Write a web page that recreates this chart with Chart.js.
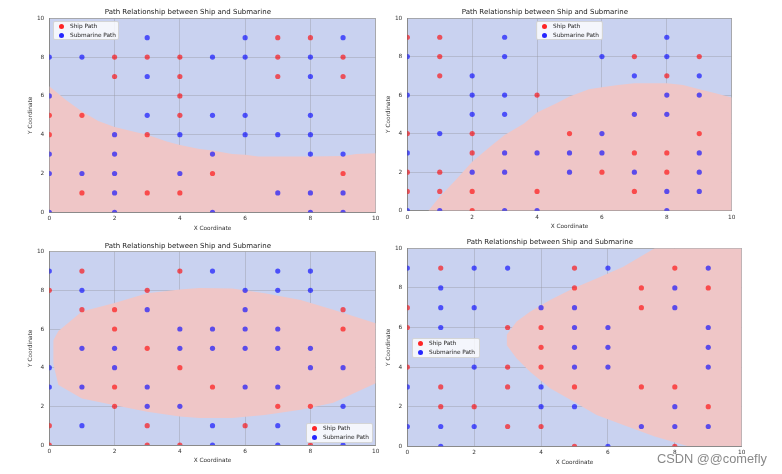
<!DOCTYPE html>
<html>
<head>
<meta charset="utf-8">
<script src="https://cdn.jsdelivr.net/npm/chart.js@4.4.0/dist/chart.umd.min.js"></script>
<style>
  body { margin: 0; background: #fff; width: 782px; height: 474px; overflow: hidden; position: relative; }
  .box { position: absolute; }
  .lg { position: absolute; z-index: 5; background: rgba(255,255,255,0.8); border: 1px solid rgba(204,204,204,0.8);
        border-radius: 2px; box-sizing: border-box; font: 5.8px 'DejaVu Sans'; color: #222; }
  .row { position: relative; height: 9px; line-height: 9px; padding-left: 16px; white-space: nowrap; }
  .dot { position: absolute; left: 4.5px; top: 2px; width: 5px; height: 5px; border-radius: 50%; }
  .wm { position: absolute; z-index: 6; left: 657px; top: 451px; font: 12.8px 'Liberation Sans'; color: rgba(115,115,115,0.85); white-space: nowrap; }
</style>
</head>
<body>
<div class="box" style="left:0;top:0;width:390px;height:235px"><canvas id="c1"></canvas></div>
<div class="box" style="left:358px;top:0;width:424px;height:235px"><canvas id="c2"></canvas></div>
<div class="box" style="left:0;top:235px;width:390px;height:239px"><canvas id="c3"></canvas></div>
<div class="box" style="left:358px;top:235px;width:424px;height:239px"><canvas id="c4"></canvas></div>

<div class="lg" style="left:53px;top:21px;width:66px;height:19px">
  <div class="row"><span class="dot" style="background:rgba(255,0,0,0.85)"></span>Ship Path</div>
  <div class="row"><span class="dot" style="background:rgba(0,0,255,0.85)"></span>Submarine Path</div>
</div>
<div class="lg" style="left:536px;top:21px;width:67px;height:19px">
  <div class="row"><span class="dot" style="background:rgba(255,0,0,0.85)"></span>Ship Path</div>
  <div class="row"><span class="dot" style="background:rgba(0,0,255,0.85)"></span>Submarine Path</div>
</div>
<div class="lg" style="left:306px;top:423px;width:67px;height:20px">
  <div class="row"><span class="dot" style="background:rgba(255,0,0,0.85)"></span>Ship Path</div>
  <div class="row"><span class="dot" style="background:rgba(0,0,255,0.85)"></span>Submarine Path</div>
</div>
<div class="lg" style="left:412px;top:338px;width:68px;height:20px">
  <div class="row"><span class="dot" style="background:rgba(255,0,0,0.85)"></span>Ship Path</div>
  <div class="row"><span class="dot" style="background:rgba(0,0,255,0.85)"></span>Submarine Path</div>
</div>
<div class="wm">CSDN @@comefly</div>

<script>
// points [x, y]
const ship1 = [[7,9],[8,9],[2,8],[3,8],[4,8],[7,8],[9,8],[2,7],[4,7],[7,7],[9,7],[4,6],[0,5],[1,5],[4,5],
  [0,4],[3,4],[5,2],[9,2],[1,1],[3,1],[4,1]];
const sub1 = [[3,9],[6,9],[9,9],[0,8],[1,8],[5,8],[6,8],[8,8],[3,7],[8,7],[0,6],[3,5],[5,5],[6,5],[8,5],
  [2,4],[4,4],[6,4],[7,4],[8,4],[0,3],[2,3],[5,3],[8,3],[9,3],[0,2],[1,2],[2,2],[4,2],[2,1],[7,1],[8,1],[9,1],
  [0,0],[2,0],[5,0],[8,0],[9,0]];

const ship2 = [[0,9],[1,9],[1,8],[7,8],[9,8],[1,7],[8,7],[4,6],[0,4],[2,4],[5,4],[9,4],[2,3],[7,3],[8,3],
  [0,2],[1,2],[6,2],[8,2],[0,1],[1,1],[2,1],[4,1],[7,1],[2,0]];
const sub2 = [[3,9],[8,9],[0,8],[3,8],[6,8],[8,8],[2,7],[7,7],[9,7],[0,6],[2,6],[3,6],[8,6],[9,6],[2,5],[3,5],
  [7,5],[8,5],[1,4],[6,4],[0,3],[3,3],[4,3],[5,3],[6,3],[9,3],[2,2],[3,2],[5,2],[7,2],[9,2],[8,1],[9,1],
  [0,0],[1,0],[3,0],[4,0],[8,0]];

const ship3 = [[1,9],[4,9],[0,8],[3,8],[1,7],[2,7],[9,7],[2,6],[9,6],[3,5],[4,4],[2,3],[5,3],[2,2],[7,2],[8,2],
  [0,1],[3,1],[6,1],[0,0],[3,0],[4,0],[8,0]];
const sub3 = [[0,9],[5,9],[7,9],[8,9],[1,8],[6,8],[7,8],[8,8],[3,7],[6,7],[4,6],[5,6],[6,6],[7,6],[1,5],[2,5],
  [4,5],[5,5],[6,5],[7,5],[8,5],[0,4],[2,4],[8,4],[9,4],[0,3],[1,3],[3,3],[6,3],[7,3],[3,2],[4,2],[9,2],
  [1,1],[5,1],[7,1],[5,0],[7,0],[9,0]];

const ship4 = [[1,9],[5,9],[8,9],[5,8],[7,8],[9,8],[0,7],[7,7],[0,6],[3,6],[4,6],[4,5],[0,4],[3,4],[4,4],
  [1,3],[3,3],[5,3],[7,3],[8,3],[1,2],[2,2],[9,2],[3,1],[4,1],[5,0],[8,0]];
const sub4 = [[0,9],[2,9],[3,9],[6,9],[9,9],[1,8],[8,8],[1,7],[2,7],[4,7],[5,7],[8,7],[1,6],[5,6],[6,6],[9,6],
  [5,5],[6,5],[9,5],[2,4],[5,4],[6,4],[9,4],[0,3],[4,3],[4,2],[5,2],[8,2],[0,1],[1,1],[2,1],[7,1],[8,1],[9,1],
  [1,0],[6,0]];

// decision boundaries (ship region = red)
const bound1X = [0, 0.5, 1, 1.5, 2, 2.6, 3, 3.6, 4, 4.6, 5, 5.6, 6, 6.4, 7, 8, 9, 9.4, 10];
const bound1Y = [6.5, 5.8, 5.2, 4.7, 4.4, 4.15, 4.0, 3.65, 3.47, 3.26, 3.18, 3.0, 2.97, 2.87, 2.87, 2.87, 2.9, 3.0, 3.05];

const bound2X = [0.65, 1, 1.5, 2, 2.55, 3, 3.6, 4, 4.6, 5, 5.6, 6, 6.5, 7, 8, 8.5, 9, 9.5, 10];
const bound2Y = [0, 0.73, 1.6, 2.54, 3.32, 3.93, 4.53, 5.09, 5.57, 5.92, 6.3, 6.4, 6.52, 6.61, 6.61, 6.52, 6.3, 6.09, 5.87];

const ellX = [0.12, 0.28, 1, 2, 3, 4, 4.6, 5.6, 6.6, 7.7, 8.7, 10];
const ellTop = [5.4, 5.9, 6.9, 7.35, 7.85, 8.05, 8.12, 8.1, 7.85, 7.5, 7.0, 6.3];
const ellBottom = [4.2, 3.1, 2.4, 2.05, 1.72, 1.48, 1.4, 1.4, 1.55, 1.82, 2.18, 3.2];

const parX = [2.97, 3.27, 3.67, 4.27, 4.97, 5.66, 6.46, 7.4, 8.4, 10];
const parTop = [5.62, 6.3, 6.8, 7.39, 7.98, 8.48, 9.07, 10, 10, 10];
const parBottom = [5.12, 4.44, 3.77, 2.93, 2.26, 1.58, 1.08, 0.5, 0, 0];

const tickVals = [0, 2, 4, 6, 8, 10];
const chartTitle = 'Path Relationship between Ship and Submarine';

const RED_BG = '#efc6c7';
const BLUE_BG = '#c9d2f0';

const toPts = arr => arr.map(p => ({x: p[0], y: p[1]}));
const zipPts = (xs, ys) => xs.map((x, i) => ({x: x, y: ys[i]}));

// blue background for the plot area
const plotBg = {
  id: 'plotBg',
  beforeDraw(chart) {
    const a = chart.chartArea, ctx = chart.ctx;
    ctx.save();
    ctx.fillStyle = BLUE_BG;
    ctx.fillRect(a.left, a.top, a.right - a.left, a.bottom - a.top);
    ctx.restore();
  }
};

function pointSets(ship, sub) {
  return [
    {label: 'Ship Path', data: toPts(ship), backgroundColor: 'rgba(255,0,0,0.62)', borderWidth: 0, pointRadius: 2.6},
    {label: 'Submarine Path', data: toPts(sub), backgroundColor: 'rgba(0,0,255,0.62)', borderWidth: 0, pointRadius: 2.6}
  ];
}

function region(data, fill) {
  return {type: 'line', data: data, fill: fill, backgroundColor: RED_BG, borderColor: 'rgba(0,0,0,0)',
    borderWidth: 0, pointRadius: 0, tension: 0};
}

function gridColor(c) {
  return c.tick && c.tick.value === 10 ? '#9a9a9a' : 'rgba(150,150,160,0.5)';
}

function makeChart(id, datasets, pad, titlePad) {
  const tickFont = {family: 'DejaVu Sans', size: 5.8};
  return new Chart(document.getElementById(id), {
    type: 'scatter',
    data: {datasets: datasets},
    plugins: [plotBg],
    options: {
      responsive: true,
      maintainAspectRatio: false,
      animation: false,
      events: [],
      layout: {padding: pad},
      plugins: {
        legend: {display: false},
        tooltip: {enabled: false},
        title: {display: true, text: chartTitle, color: '#222', padding: titlePad,
          font: {family: 'DejaVu Sans', size: 7, weight: 'normal'}}
      },
      scales: {
        x: {
          type: 'linear', min: 0, max: 10, z: 1,
          afterBuildTicks: s => { s.ticks = tickVals.map(v => ({value: v})); },
          afterFit: s => { s.height = 20; },
          ticks: {font: tickFont, color: '#333', padding: 3, maxRotation: 0},
          grid: {color: gridColor, lineWidth: 0.8, drawTicks: false},
          border: {color: '#8a8a8a', width: 1},
          title: {display: true, text: 'X Coordinate', color: '#333', font: tickFont, padding: {top: 0, bottom: 0.8}}
        },
        y: {
          type: 'linear', min: 0, max: 10, z: 1,
          afterBuildTicks: s => { s.ticks = tickVals.map(v => ({value: v})); },
          afterFit: s => { s.width = 49.3; },
          ticks: {font: tickFont, color: '#333', padding: 5},
          grid: {color: gridColor, lineWidth: 0.8, drawTicks: false},
          border: {color: '#8a8a8a', width: 1},
          title: {display: true, text: 'Y Coordinate', color: '#333', font: tickFont, padding: {top: 27.5, bottom: 0}}
        }
      }
    }
  });
}

makeChart('c1',
  pointSets(ship1, sub1).concat([region(zipPts(bound1X, bound1Y), 'start')]),
  {left: 0, right: 14.3, top: 0, bottom: 2.7}, {top: 7.8, bottom: 2.1});

makeChart('c2',
  pointSets(ship2, sub2).concat([region(zipPts(bound2X, bound2Y), 'start')]),
  {left: 0, right: 50.3, top: 0, bottom: 4.3}, {top: 7.5, bottom: 2.1});

makeChart('c3',
  pointSets(ship3, sub3).concat([region(zipPts(ellX, ellBottom), false), region(zipPts(ellX, ellTop), '-1')]),
  {left: 0, right: 14.3, top: 0, bottom: 9}, {top: 6.5, bottom: 1.8});

makeChart('c4',
  pointSets(ship4, sub4).concat([region(zipPts(parX, parBottom), false), region(zipPts(parX, parTop), '-1')]),
  {left: 0, right: 40.3, top: 0, bottom: 7.7}, {top: 2.5, bottom: 2.4});
</script>
</body>
</html>
